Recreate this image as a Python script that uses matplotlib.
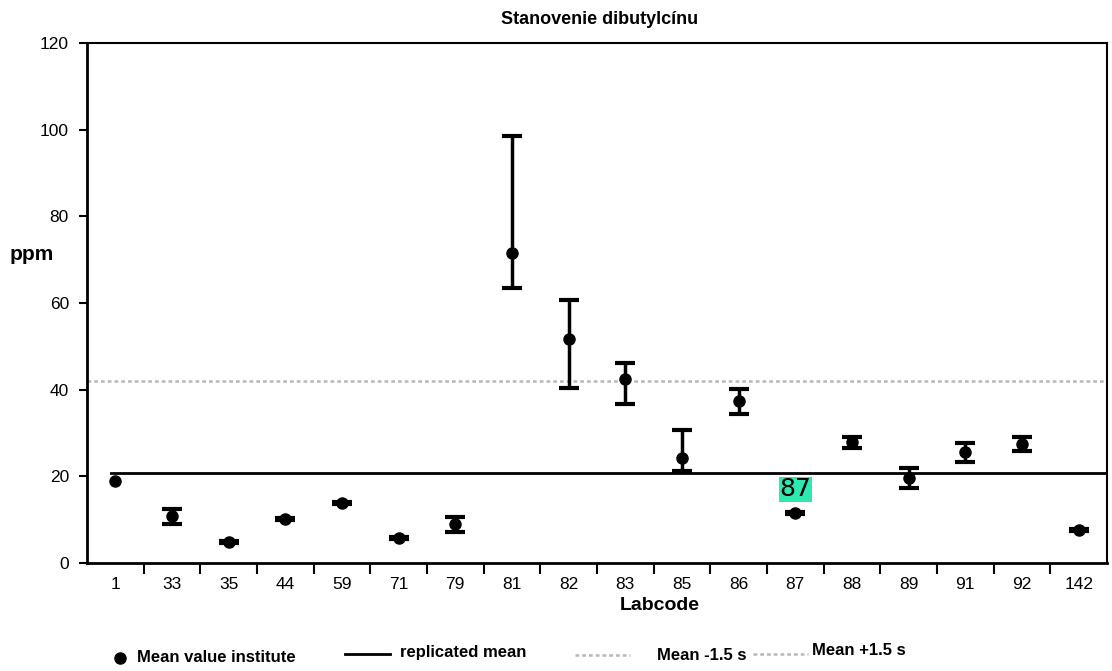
import matplotlib.pyplot as plt
from matplotlib.lines import Line2D
import numpy as np

plt.rcParams['font.family'] = ['Liberation Sans', 'DejaVu Sans']

labcodes = ['1', '33', '35', '44', '59', '71', '79', '81', '82', '83',
            '85', '86', '87', '88', '89', '91', '92', '142']
means = [18.8, 10.9, 4.9, 10.2, 13.9, 5.8, 9.0, 71.6, 51.7, 42.5,
         24.2, 37.4, 11.5, 27.9, 19.6, 25.6, 27.5, 7.6]
upper = [18.8, 12.5, 5.1, 10.4, 14.1, 6.0, 10.6, 98.6, 60.7, 46.2,
         30.7, 40.2, 11.7, 29.1, 21.9, 27.7, 29.1, 7.8]
lower = [18.8, 9.0, 4.7, 10.0, 13.7, 5.6, 7.2, 63.5, 40.4, 36.7,
         21.2, 34.4, 11.3, 26.6, 17.3, 23.3, 25.9, 7.4]
replicated_mean = 20.8
mean_plus = 42.1
mean_minus = -0.5

x = np.arange(len(labcodes))
means = np.array(means)
upper = np.array(upper)
lower = np.array(lower)
has_err = upper > lower

fig = plt.figure(figsize=(11.12, 6.71), dpi=100)
ax = fig.add_axes([0.0782, 0.161, 0.9173, 0.775])

gray = '#b8b8b8'
dots = (0, (1.5, 1.2))
ax.axhline(mean_plus, color=gray, lw=1.8, ls=dots)
ax.axhline(mean_minus, color=gray, lw=1.8, ls=dots)
ax.plot([-0.08, 17.5], [replicated_mean, replicated_mean], color='black', lw=2)

ax.errorbar(x[has_err], means[has_err],
            yerr=[means[has_err] - lower[has_err], upper[has_err] - means[has_err]],
            fmt='none', ecolor='black', lw=2.5, capsize=7.5, capthick=3)
ax.plot(x, means, 'o', color='black', ms=8)

ax.set_xlim(-0.5, 17.5)
ax.set_ylim(0, 120)
ax.set_yticks(range(0, 121, 20))
ax.tick_params(axis='y', length=6, width=1.5, labelsize=12.5, pad=7)

ax.set_xticks(x[:-1] + 0.5)
ax.set_xticklabels([])
ax.set_xticks(x, minor=True)
ax.set_xticklabels(labcodes, minor=True)
ax.tick_params(axis='x', which='major', length=8, width=1.5)
ax.tick_params(axis='x', which='minor', length=0, labelsize=12.5, pad=10)

for side in ['left', 'bottom']:
    ax.spines[side].set_linewidth(2)
for side in ['top', 'right']:
    ax.spines[side].set_linewidth(1.5)

# highlighted label above lab 87
ax.text(x[12], 17.0, '87', ha='center', va='center', fontsize=18,
        family=['DejaVu Sans'],
        bbox=dict(boxstyle='square,pad=0.02', fc='#2de8b0', ec='none'))

fig.text(600 / 1112, 1 - 20 / 671, 'Stanovenie dibutylcínu', ha='center', va='center',
         fontsize=13, fontweight='bold')
fig.text(10 / 1112, 1 - 255 / 671, 'ppm', ha='left', va='center',
         fontsize=15, fontweight='bold')
fig.text(660 / 1112, 1 - 606 / 671, 'Labcode', ha='center', va='center',
         fontsize=14, fontweight='bold')

# legend row
ly = 1 - 658 / 671
fig.add_artist(Line2D([120 / 1112], [ly], marker='o', color='black', ms=8,
                      transform=fig.transFigure))
fig.text(137 / 1112, ly, 'Mean value institute', va='center', fontsize=12, fontweight='bold')
fig.add_artist(Line2D([345 / 1112, 390 / 1112], [ly + 0.006, ly + 0.006], color='black', lw=2,
                      transform=fig.transFigure))
fig.text(400 / 1112, ly + 0.008, 'replicated mean', va='center', fontsize=12, fontweight='bold')
fig.add_artist(Line2D([575 / 1112, 630 / 1112], [ly + 0.004, ly + 0.004], color=gray, lw=1.8,
                      ls=dots, transform=fig.transFigure))
fig.text(657 / 1112, ly + 0.004, 'Mean -1.5 s', va='center', fontsize=12, fontweight='bold')
fig.add_artist(Line2D([753 / 1112, 808 / 1112], [ly + 0.006, ly + 0.006], color=gray, lw=1.8,
                      ls=dots, transform=fig.transFigure))
fig.text(812 / 1112, ly + 0.011, 'Mean +1.5 s', va='center', fontsize=12, fontweight='bold')

fig.savefig('out.png', dpi=100)
